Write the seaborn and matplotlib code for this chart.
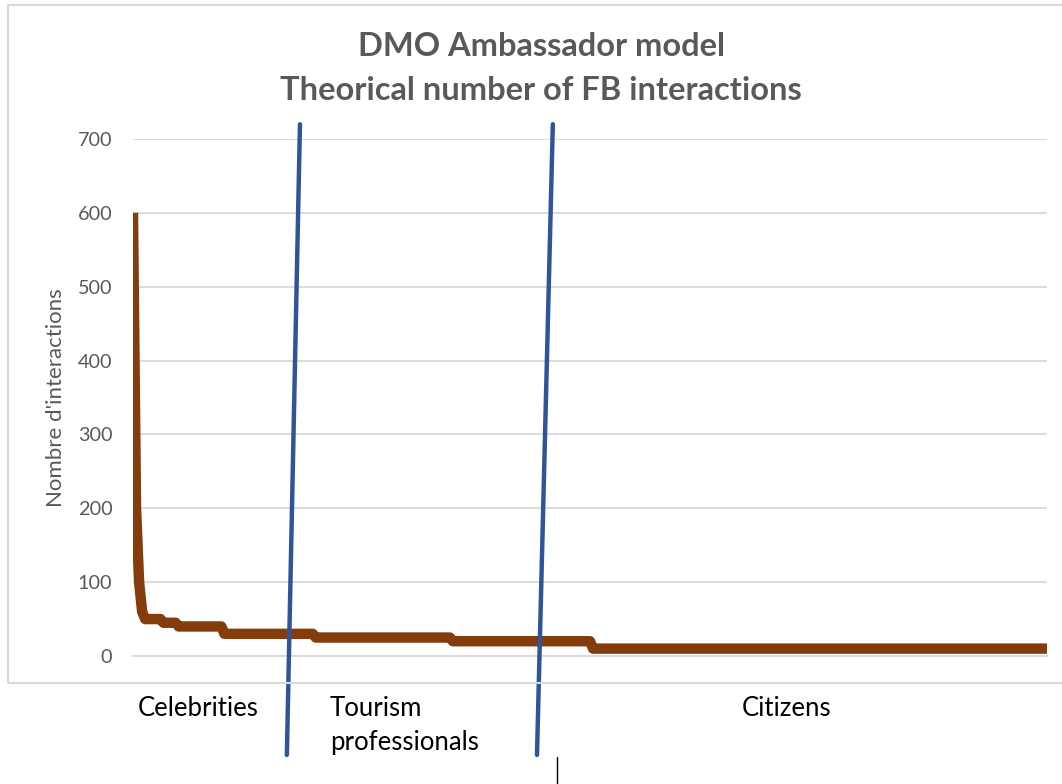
'''
DMO Ambassador model - theoretical number of FB interactions per ambassador
'''

import numpy as np
import pandas as pd
import seaborn as sns
import matplotlib
matplotlib.use('Agg')
import matplotlib.pyplot as plt
from matplotlib.lines import Line2D
from matplotlib.patches import Rectangle

# step levels of the curve and how many ambassadors sit on each level
levels = [600, 200, 100, 60, 50, 45, 40, 30, 25, 20, 10]
counts = [1, 1, 1, 1, 6, 5, 15, 30, 45, 46, 150]

yticks = [0, 100, 200, 300, 400, 500, 600, 700]
groups = ['Celebrities', 'Tourism\nprofessionals', 'Citizens']

# group separators (rank at top / bottom of the hand-drawn lines)
sep_top = [54.8, 137.8]
sep_bottom = [50.5, 132.6]

values = np.repeat(levels, counts)
data = pd.DataFrame({'rank': np.arange(len(values)), 'interactions': values})

sns.set_theme(style='white')
plt.rcParams['font.family'] = ['Lato', 'DejaVu Sans']

W, H = 1062, 784
fig = plt.figure(figsize=(W / 100, H / 100), dpi=100)
ax = fig.add_axes([133 / W, 1 - 656 / H, (1047 - 133) / W, (656 - 139) / H])

sns.lineplot(data=data, x='rank', y='interactions', ax=ax, color='#843C0C',
             linewidth=7.5, estimator=None, solid_capstyle='butt',
             solid_joinstyle='round', zorder=3)

ax.set_xlim(0, len(values) - 1)
ax.set_ylim(0, 700)
ax.set_yticks(yticks)
ax.set_xticks([])
ax.yaxis.grid(True, color='#d9d9d9', linewidth=1.3)
ax.tick_params(axis='y', length=0, pad=15, labelsize=14.3, labelcolor='#595959')
for s in ['top', 'right', 'left']:
    ax.spines[s].set_visible(False)
ax.spines['bottom'].set_color('#d9d9d9')
ax.spines['bottom'].set_linewidth(1.3)
ax.set_xlabel('')
ax.set_ylabel("Nombre d'interactions", fontsize=16, color='#595959', labelpad=8)

# separators between the ambassador groups
for t, b in zip(sep_top, sep_bottom):
    ax.plot([t, b], [720, -134], color='#2F5597', linewidth=3.2,
            clip_on=False, zorder=4)

# group labels under the chart
fx = [138 / W, 330 / W, 787 / W]
ha = ['left', 'left', 'center']
for x, g, h in zip(fx, groups, ha):
    fig.text(x, 1 - 696 / H, g, ha=h, va='top', fontsize=18.5,
             color='black', linespacing=1.45)

fig.text(541 / W, 1 - 47 / H, 'DMO Ambassador model', ha='center',
         va='center', fontsize=23.5, fontweight='bold', color='#595959')
fig.text(541 / W, 1 - 90 / H, 'Theorical number of FB interactions',
         ha='center', va='center', fontsize=23.5, fontweight='bold',
         color='#595959')

# chart frame and stray cursor mark
fig.add_artist(Rectangle((8 / W, 1 - 683 / H), (W + 10 - 8) / W, (683 - 5) / H,
                         transform=fig.transFigure, fill=False,
                         edgecolor='#d9d9d9', linewidth=1.5))
fig.add_artist(Line2D([557 / W, 557 / W], [1 - 757 / H, 0],
                      transform=fig.transFigure, color='black', linewidth=1))

fig.savefig('out.png', dpi=100)
plt.close(fig)
